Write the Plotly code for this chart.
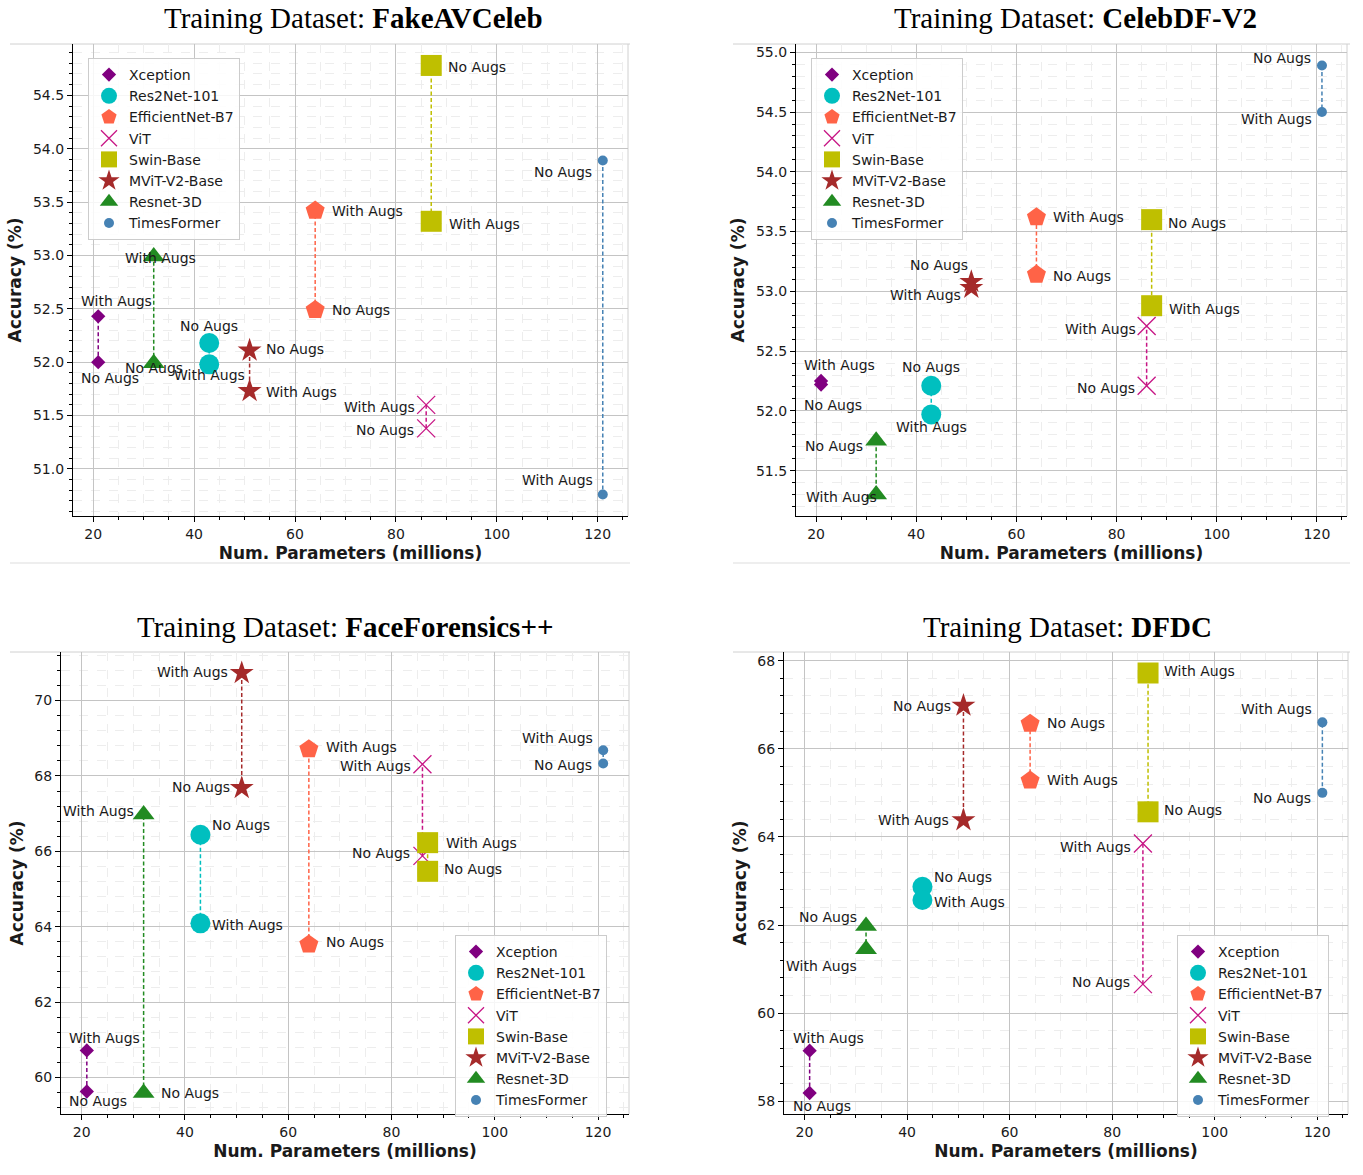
import plotly.graph_objects as go

# ---------------- data ----------------
models = ["Xception", "Res2Net-101", "EfficientNet-B7", "ViT", "Swin-Base",
          "MViT-V2-Base", "Resnet-3D", "TimesFormer"]
params = [21, 43, 64, 86, 87, 51, 32, 121]

datasets = ["FakeAVCeleb", "CelebDF-V2", "FaceForensics++", "DFDC"]

fakeav_no = [52.00, 52.18, 52.49, 51.38, 54.78, 52.11, 51.99, 53.89]
fakeav_with = [52.43, 51.98, 53.42, 51.60, 53.32, 51.73, 52.99, 50.76]

celebdf_no = [52.22, 52.21, 53.14, 52.21, 53.60, 53.08, 51.75, 54.89]
celebdf_with = [52.25, 51.97, 53.62, 52.71, 52.88, 53.03, 51.30, 54.50]

ffpp_no = [59.63, 66.44, 63.53, 65.88, 65.47, 67.68, 59.59, 68.33]
ffpp_with = [60.72, 64.09, 68.71, 68.31, 66.23, 70.73, 66.98, 68.68]

dfdc_no = [58.19, 62.87, 66.57, 60.66, 64.57, 66.98, 61.98, 65.00]
dfdc_with = [59.15, 62.57, 65.28, 63.85, 67.72, 64.38, 61.45, 66.60]

no_label = "No Augs"
with_label = "With Augs"

# ---------------- styles ----------------
colors = ["#800080", "#00BFBF", "#FF6347", "#C71585", "#BFBF00",
          "#A52A2A", "#228B22", "#4682B4"]
symbols = ["diamond", "circle", "pentagon", "x-thin-open", "square",
           "star", "triangle-up", "circle"]
sizes = [11, 20, 20, 18, 21, 18, 19, 10]

# label placement: (anchor, dx px, dy px down) for (No, With)
place = [
    [  # FakeAVCeleb
        (("center", 12, 16), ("center", 18, -15)),
        (("center", 0, -17), ("center", 0, 11)),
        (("left", 15, 0), ("left", 15, 0)),
        (("right", -10, 2), ("right", -9, 2)),
        (("left", 15, 2), ("left", 16, 3)),
        (("left", 14, -1), ("left", 14, 1)),
        (("center", 0, 5), ("center", 7, 1)),
        (("right", -9, 12), ("right", -8, -15)),
    ],
    [  # CelebDF-V2
        (("center", 12, 20), ("center", 18, -16)),
        (("center", 0, -19), ("center", 0, 13)),
        (("left", 15, 1), ("left", 15, 0)),
        (("right", -10, 2), ("right", -9, 3)),
        (("left", 14, 3), ("left", 15, 3)),
        (("right", -1, -17), ("right", -8, 7)),
        (("right", -11, 5), ("right", 3, 2)),
        (("right", -9, -7), ("right", -8, 7)),
    ],
    [  # FaceForensics++
        (("center", 11, 10), ("center", 18, -12)),
        (("left", 10, -10), ("left", 10, 2)),
        (("left", 15, -2), ("left", 15, -2)),
        (("right", -10, -3), ("right", -9, 2)),
        (("left", 14, -2), ("left", 16, 0)),
        (("right", -10, -1), ("right", -12, -1)),
        (("left", 15, 0), ("right", -8, -3)),
        (("right", -9, 2), ("right", -8, -12)),
    ],
    [  # DFDC
        (("center", 12, 13), ("center", 19, -13)),
        (("left", 10, -10), ("left", 10, 2)),
        (("left", 15, -1), ("left", 15, -1)),
        (("right", -11, -2), ("right", -10, 3)),
        (("left", 14, -2), ("left", 14, -2)),
        (("right", -10, 0), ("right", -12, 0)),
        (("right", -7, -9), ("right", -7, 17)),
        (("right", -9, 5), ("right", -8, -13)),
    ],
]

W, H = 1363, 1175
# plot areas in pixels: (left, right, top, bottom)
areas = [(73, 628, 44, 516), (796, 1347, 44, 516),
         (61, 629, 652, 1114), (784, 1348, 652, 1114)]
title_pos = [(353, 18), (1075, 18), (345, 627), (1067, 627)]
legend_pos = [(88, 58), (811, 58), (455, 935), (1177, 935)]
ytick = [(0.5, 0.1, ".1f"), (0.5, 0.1, ".1f"), (2, 0.4, "d"), (2, 0.4, "d")]

all_no = [fakeav_no, celebdf_no, ffpp_no, dfdc_no]
all_with = [fakeav_with, celebdf_with, ffpp_with, dfdc_with]

FONT = "DejaVu Sans"
fig = go.Figure()
annotations = []
shapes = []
layout = {}

for k in range(4):
    ax = "" if k == 0 else str(k + 1)
    xref, yref = "x" + ax, "y" + ax
    leg = "legend" if k == 0 else "legend" + str(k + 1)
    no_v, with_v = all_no[k], all_with[k]
    for i, m in enumerate(models):
        fig.add_trace(go.Scatter(
            x=[params[i], params[i]], y=[no_v[i], with_v[i]], mode="lines",
            line=dict(color=colors[i], width=1.5, dash="4px,2.5px"),
            showlegend=False, hoverinfo="skip", xaxis=xref, yaxis=yref))
    for i, m in enumerate(models):
        mk = dict(symbol=symbols[i], size=sizes[i], color=colors[i])
        if symbols[i].endswith("open"):
            mk["line"] = dict(color=colors[i], width=1.3)
        else:
            mk["line"] = dict(width=0)
        fig.add_trace(go.Scatter(
            x=[params[i], params[i]], y=[no_v[i], with_v[i]], mode="markers",
            marker=mk, name=m, legend=leg, xaxis=xref, yaxis=yref))
        for j, (val, txt) in enumerate([(no_v[i], no_label), (with_v[i], with_label)]):
            anc, dx, dy = place[k][i][j]
            annotations.append(dict(
                x=params[i], y=val, xref=xref, yref=yref, text=txt,
                showarrow=False, xanchor=anc, yanchor="middle",
                xshift=dx, yshift=-dy,
                font=dict(family=FONT, size=14, color="#1a1a1a")))

    l, r, t, b = areas[k]
    xmin, xmax = min(params), max(params)
    xs = xmax - xmin
    vals = no_v + with_v
    ymin, ymax = min(vals), max(vals)
    ys = ymax - ymin
    dt, mdt, fmt = ytick[k]
    common = dict(showline=True, linecolor="black", linewidth=1.3,
                  ticks="outside", ticklen=5, tickwidth=1.2, tickcolor="black",
                  showgrid=True, gridcolor="#c4c4c4", gridwidth=1,
                  zeroline=False, mirror=False,
                  tickfont=dict(family=FONT, size=14, color="#1a1a1a"))
    layout["xaxis" + ax] = dict(
        common, domain=[l / W, r / W], anchor=yref,
        range=[xmin - 0.05 * xs, xmax + 0.05 * xs], tick0=0, dtick=20,
        minor=dict(dtick=5, ticks="outside", ticklen=3, tickcolor="black",
                   showgrid=True, gridcolor="#ededed", griddash="dash"),
        title=dict(text="<b>Num. Parameters (millions)</b>", standoff=6,
                   font=dict(family=FONT, size=17, color="#1a1a1a")))
    layout["yaxis" + ax] = dict(
        common, domain=[1 - b / H, 1 - t / H], anchor=xref,
        range=[ymin - 0.05 * ys, ymax + 0.05 * ys], tick0=0, dtick=dt,
        tickformat=fmt,
        minor=dict(dtick=mdt, ticks="outside", ticklen=3, tickcolor="black",
                   showgrid=True, gridcolor="#ededed", griddash="dash"),
        title=dict(text="<b>Accuracy (%)</b>", standoff=6,
                   font=dict(family=FONT, size=17, color="#1a1a1a")))

    lx, ly = legend_pos[k]
    layout[leg] = dict(
        x=lx / W, y=1 - ly / H, xanchor="left", yanchor="top",
        bgcolor="rgba(255,255,255,0.85)", bordercolor="#cccccc", borderwidth=1,
        font=dict(family=FONT, size=14, color="#1a1a1a"),
        itemsizing="trace", tracegroupgap=0)

    tx, ty = title_pos[k]
    annotations.append(dict(
        x=tx / W, y=1 - ty / H, xref="paper", yref="paper", showarrow=False,
        xanchor="center", yanchor="middle",
        text="Training Dataset: <b>" + datasets[k] + "</b>",
        font=dict(family="Liberation Serif", size=29, color="black")))

    # light frame (top & right edges) and panel separators
    panel_l = 10 if l < 700 else 733
    panel_r = 630 if l < 700 else 1350
    shapes.append(dict(type="line", xref="paper", yref="paper",
                       x0=panel_l / W, x1=panel_r / W, y0=1 - t / H, y1=1 - t / H,
                       line=dict(color="#d0d0d0", width=1), layer="between"))
    shapes.append(dict(type="line", xref="paper", yref="paper",
                       x0=r / W, x1=r / W, y0=1 - b / H, y1=1 - t / H,
                       line=dict(color="#d0d0d0", width=1), layer="between"))
    if t < 300:
        shapes.append(dict(type="line", xref="paper", yref="paper",
                           x0=panel_l / W, x1=panel_r / W, y0=1 - 563 / H, y1=1 - 563 / H,
                           line=dict(color="#dddddd", width=1)))

fig.update_layout(
    width=W, height=H, margin=dict(l=0, r=0, t=0, b=0),
    paper_bgcolor="white", plot_bgcolor="white",
    annotations=annotations, shapes=shapes, **layout)

fig.write_html("out.html")
